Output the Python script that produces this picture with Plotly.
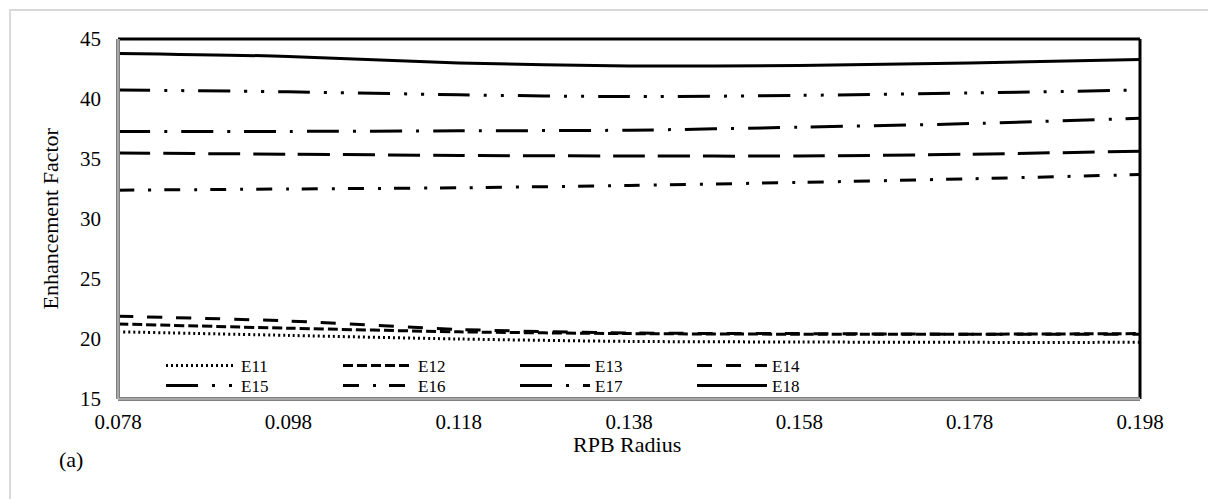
import plotly.graph_objects as go

x_vals = [0.078, 0.098, 0.118, 0.138, 0.158, 0.178, 0.198]
E11 = [20.6, 20.3, 20.0, 19.8, 19.75, 19.72, 19.72]
E12 = [21.25, 20.9, 20.6, 20.45, 20.4, 20.4, 20.45]
E13 = [35.5, 35.4, 35.3, 35.25, 35.25, 35.4, 35.65]
E14 = [21.9, 21.5, 20.8, 20.5, 20.45, 20.4, 20.4]
E15 = [40.75, 40.6, 40.35, 40.2, 40.3, 40.5, 40.75]
E16 = [32.4, 32.5, 32.6, 32.8, 33.05, 33.35, 33.7]
E17 = [37.3, 37.3, 37.35, 37.4, 37.65, 37.95, 38.4]
E18 = [43.8, 43.55, 43.0, 42.75, 42.8, 43.0, 43.3]

series_names = ["E11", "E12", "E13", "E14", "E15", "E16", "E17", "E18"]
series_vals = [E11, E12, E13, E14, E15, E16, E17, E18]
dashes = ["2px,3px", "10px,4px", "32px,13px", "15px,14px",
          "32px,14px,3px,14px,3px,14px", "16px,14px,3px,13px",
          "32px,14px,3px,14px", "solid"]
x_ticks = [0.078, 0.098, 0.118, 0.138, 0.158, 0.178, 0.198]
y_ticks = [15, 20, 25, 30, 35, 40, 45]

FONT = "'Times New Roman', 'Liberation Serif', 'DejaVu Serif', serif"
W, H = 1208, 499
L, R, T, B = 118, 68, 39, 100
PW = W - L - R
PH = H - T - B

def px(xp):
    return (xp - L) / PW

def py(yp):
    return (H - B - yp) / PH

fig = go.Figure()
for i, (name, vals, dash) in enumerate(zip(series_names, series_vals, dashes)):
    fig.add_trace(go.Scatter(
        x=x_vals, y=vals, name=name, mode="lines",
        line=dict(color="black", width=3, dash=dash, shape="spline", smoothing=0.8),
        legend="legend" if i < 4 else "legend2",
    ))

legend_common = dict(
    orientation="h", xanchor="left", yanchor="middle",
    font=dict(family=FONT, size=17, color="black"),
    bgcolor="rgba(0,0,0,0)", itemwidth=70, entrywidth=92,
    entrywidthmode="pixels", itemclick=False, traceorder="normal",
)
fig.update_layout(
    width=W, height=H,
    margin=dict(l=L, r=R, t=T, b=B),
    paper_bgcolor="white", plot_bgcolor="white",
    font=dict(family=FONT, color="black"),
    showlegend=True,
    legend=dict(x=px(161), y=py(366), **legend_common),
    legend2=dict(x=px(161), y=py(386), **legend_common),
    xaxis=dict(range=[0.078, 0.198], tickvals=x_ticks,
               ticktext=[f"{v:.3f}" for v in x_ticks],
               showgrid=False, zeroline=False, showline=False, ticks="",
               tickfont=dict(family=FONT, size=21, color="black"),
               ticklabelstandoff=8),
    yaxis=dict(range=[15, 45], tickvals=y_ticks,
               showgrid=False, zeroline=False, showline=False, ticks="",
               tickfont=dict(family=FONT, size=21, color="black"),
               ticklabelstandoff=16),
)

shapes = [
    dict(type="rect", xref="paper", yref="paper", x0=px(10), x1=px(1230),
         y0=py(520), y1=py(10), line=dict(color="#d9d9d9", width=2), layer="below"),
    dict(type="line", xref="paper", yref="paper", x0=0, x1=1, y0=1, y1=1,
         line=dict(color="black", width=3)),
    dict(type="line", xref="paper", yref="paper", x0=1, x1=1, y0=0, y1=1,
         line=dict(color="black", width=3)),
    dict(type="line", xref="paper", yref="paper", x0=0, x1=0, y0=0, y1=1,
         line=dict(color="#7f7f7f", width=4)),
    dict(type="line", xref="paper", yref="paper", x0=0, x1=1, y0=0, y1=0,
         line=dict(color="#7f7f7f", width=4)),
    dict(type="line", xref="paper", yref="paper", x0=0, x1=0, y0=0, y1=1,
         line=dict(color="#d0d0d0", width=1)),
    dict(type="line", xref="paper", yref="paper", x0=0, x1=1, y0=0, y1=0,
         line=dict(color="#d0d0d0", width=1)),
]
fig.update_layout(shapes=shapes)

fig.add_annotation(text="RPB Radius", xref="paper", yref="paper",
                   x=px(627), y=py(459), showarrow=False,
                   font=dict(family=FONT, size=22, color="black"))
fig.add_annotation(text="Enhancement Factor", xref="paper", yref="paper",
                   x=px(35), y=py(219), showarrow=False, textangle=-90,
                   font=dict(family=FONT, size=22, color="black"))
fig.add_annotation(text="(a)", xref="paper", yref="paper",
                   x=px(57), y=py(474), showarrow=False,
                   font=dict(family=FONT, size=22, color="black"))

fig.write_html("out.html")
